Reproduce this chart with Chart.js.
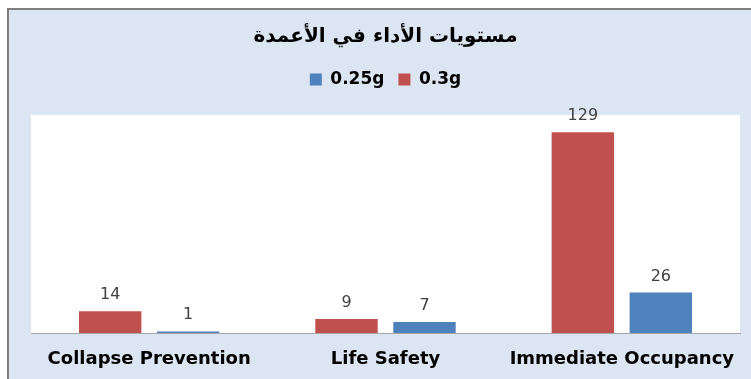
<!DOCTYPE html>
<html>
<head>
<meta charset="utf-8">
<script src="https://cdn.jsdelivr.net/npm/chart.js@4"></script>
<style>
  html, body { margin: 0; padding: 0; background: #fff; }
  #wrap { width: 751px; height: 379px; }
</style>
</head>
<body>
<div id="wrap"><canvas id="levels"></canvas></div>
<script>
const categories = ['Collapse Prevention', 'Life Safety', 'Immediate Occupancy'];
const values03 = [14, 9, 129];
const values025 = [1, 7, 26];

// frame, panel colour and white plot area behind the bars
const backdrop = {
  id: 'backdrop',
  beforeDraw(chart) {
    const { ctx, width, height, chartArea } = chart;
    ctx.save();
    ctx.fillStyle = '#ffffff';
    ctx.fillRect(0, 0, width, height);
    ctx.fillStyle = '#dce6f2';
    ctx.fillRect(7, 8, width - 7, height - 8);
    ctx.strokeStyle = '#7f7f7f';
    ctx.lineWidth = 2;
    ctx.beginPath();
    ctx.moveTo(8, height);
    ctx.lineTo(8, 9);
    ctx.lineTo(width, 9);
    ctx.stroke();
    ctx.fillStyle = '#ffffff';
    ctx.fillRect(chartArea.left, chartArea.top, chartArea.right - chartArea.left, chartArea.bottom - chartArea.top);
    ctx.restore();
  }
};

// extra room between the legend row and the plot
const legendGap = {
  id: 'legendGap',
  afterInit(chart) {
    const legend = chart.legend;
    const fit = legend.fit.bind(legend);
    legend.fit = function () {
      fit();
      this.height += 17;
    };
  }
};

// value above each bar
const barValues = {
  id: 'barValues',
  afterDatasetsDraw(chart) {
    const { ctx } = chart;
    ctx.save();
    ctx.font = '16px "DejaVu Sans"';
    ctx.fillStyle = '#404040';
    ctx.textAlign = 'center';
    ctx.textBaseline = 'alphabetic';
    chart.data.datasets.forEach((ds, i) => {
      chart.getDatasetMeta(i).data.forEach((bar, j) => {
        ctx.fillText(String(ds.data[j]), bar.x, bar.y - 12);
      });
    });
    ctx.restore();
  }
};

new Chart(document.getElementById('levels'), {
  type: 'bar',
  data: {
    labels: categories,
    datasets: [
      { label: '0.3g', data: values03, backgroundColor: '#c0504d' },
      { label: '0.25g', data: values025, backgroundColor: '#4f81bd' }
    ]
  },
  options: {
    responsive: true,
    maintainAspectRatio: false,
    animation: false,
    events: [],
    layout: { padding: { top: 0, left: 31, right: 11, bottom: 0 } },
    datasets: {
      bar: { categoryPercentage: 0.66, barPercentage: 0.8 }
    },
    plugins: {
      title: {
        display: true,
        text: 'مستويات الأداء في الأعمدة',
        color: '#000000',
        font: { family: 'DejaVu Sans', size: 20, weight: 'bold' },
        padding: { top: 25, bottom: 8 }
      },
      legend: {
        position: 'top',
        reverse: true,
        labels: {
          boxWidth: 12,
          boxHeight: 12,
          padding: 14,
          color: '#000000',
          font: { family: 'DejaVu Sans', size: 17, weight: 'bold' }
        }
      },
      tooltip: { enabled: false }
    },
    scales: {
      x: {
        grid: { display: false },
        border: { display: true, color: '#a6a6a6', width: 1 },
        ticks: {
          color: '#000000',
          padding: 8,
          font: { family: 'DejaVu Sans', size: 18, weight: 'bold' }
        },
        afterFit(scale) { scale.height = 46; }
      },
      y: {
        display: false,
        min: 0,
        max: 140
      }
    }
  },
  plugins: [backdrop, legendGap, barValues]
});
</script>
</body>
</html>
